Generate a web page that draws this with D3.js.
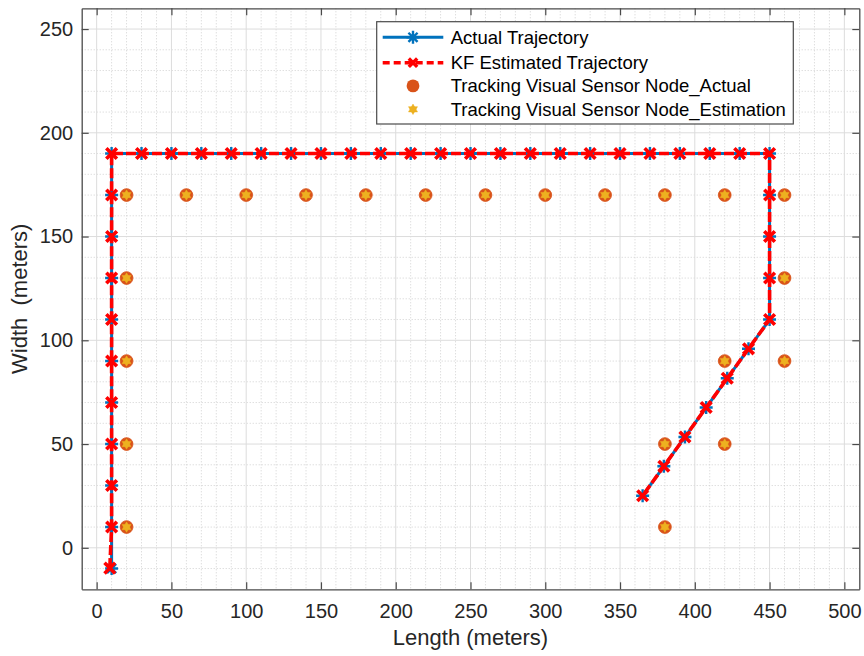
<!DOCTYPE html>
<html>
<head>
<meta charset="utf-8">
<script src="https://cdn.jsdelivr.net/npm/d3@7"></script>
<style>
  html, body { margin: 0; padding: 0; background: #fff; }
  svg { display: block; font-family: "Liberation Sans", Arial, Helvetica, sans-serif; }
</style>
</head>
<body>
<svg id="chart" width="864" height="656"></svg>
<script>
// Target path (ground truth)
const actualX = [10, 10, 10, 10, 10, 10, 10, 10, 10, 10, 10,
  30, 50, 70, 90, 110, 130, 150, 170, 190, 210, 230, 250, 270, 290, 310, 330, 350, 370, 390, 410, 430, 450,
  450, 450, 450, 450,
  435.9, 421.7, 407.6, 393.4, 379.3, 365.1];
const actualY = [-10, 10, 30, 50, 70, 90, 110, 130, 150, 170, 190,
  190, 190, 190, 190, 190, 190, 190, 190, 190, 190, 190, 190, 190, 190, 190, 190, 190, 190, 190, 190, 190, 190,
  170, 150, 130, 110,
  95.9, 81.7, 67.6, 53.4, 39.3, 25.1];

// Kalman filter estimate of the path
const kfX = [8.8, 10, 10, 10, 10, 10, 10, 10, 10, 10, 10,
  30, 50, 70, 90, 110, 130, 150, 170, 190, 210, 230, 250, 270, 290, 310, 330, 350, 370, 390, 410, 430, 450,
  450, 450, 450, 450,
  435.9, 421.7, 407.6, 393.4, 379.3, 365.1];
const kfY = [-9.8, 10, 30, 50, 70, 90, 110, 130, 150, 170, 190,
  190, 190, 190, 190, 190, 190, 190, 190, 190, 190, 190, 190, 190, 190, 190, 190, 190, 190, 190, 190, 190, 190,
  170, 150, 130, 110,
  95.9, 81.7, 67.6, 53.4, 39.3, 25.1];

// Sensor nodes that tracked the target: true and estimated positions
const sensorX = [20, 20, 20, 20, 20, 60, 100, 140, 180, 220, 260, 300, 340, 380, 420, 460, 460, 460, 420, 420, 380, 380];
const sensorY = [170, 130, 90, 50, 10, 170, 170, 170, 170, 170, 170, 170, 170, 170, 170, 170, 130, 90, 90, 50, 50, 10];
const sensorEstX = [20, 20, 20, 20, 20, 60, 100, 140, 180, 220, 260, 300, 340, 380, 420, 460, 460, 460, 420, 420, 380, 380];
const sensorEstY = [170, 130, 90, 50, 10, 170, 170, 170, 170, 170, 170, 170, 170, 170, 170, 170, 130, 90, 90, 50, 50, 10];

const xTicks = [0, 50, 100, 150, 200, 250, 300, 350, 400, 450, 500];
const yTicks = [0, 50, 100, 150, 200, 250];
const legendLabels = ["Actual Trajectory", "KF Estimated Trajectory",
  "Tracking Visual Sensor Node_Actual", "Tracking Visual Sensor Node_Estimation"];

const C_BLUE = "#0072BD", C_RED = "#FF0000", C_ORANGE = "#D95319", C_YELLOW = "#EDB120";
const AX = "#4a4a4a", TXT = "#262626";

const svg = d3.select("#chart");
const box = { left: 81.7, right: 859.3, top: 8.3, bottom: 589.3 };
const x = d3.scaleLinear().domain([-10, 510]).range([box.left, box.right]);
const y = d3.scaleLinear().domain([-20, 260]).range([box.bottom, box.top]);

// Grid: dotted minor lines every 10, solid major lines every 50
const minorX = d3.range(0, 510, 10).filter(v => v % 50 !== 0);
const minorY = d3.range(-10, 260, 10).filter(v => v % 50 !== 0);
const grid = svg.append("g");
grid.selectAll(".mx").data(minorX).join("line")
  .attr("x1", d => x(d)).attr("x2", d => x(d)).attr("y1", box.top).attr("y2", box.bottom)
  .attr("stroke", "#d0d0d0").attr("stroke-width", 1).attr("stroke-dasharray", "1,2");
grid.selectAll(".my").data(minorY).join("line")
  .attr("y1", d => y(d)).attr("y2", d => y(d)).attr("x1", box.left).attr("x2", box.right)
  .attr("stroke", "#d0d0d0").attr("stroke-width", 1).attr("stroke-dasharray", "1,2");
grid.selectAll(".Mx").data(xTicks).join("line")
  .attr("x1", d => x(d)).attr("x2", d => x(d)).attr("y1", box.top).attr("y2", box.bottom)
  .attr("stroke", "#dcdcdc").attr("stroke-width", 1);
grid.selectAll(".My").data(yTicks).join("line")
  .attr("y1", d => y(d)).attr("y2", d => y(d)).attr("x1", box.left).attr("x2", box.right)
  .attr("stroke", "#dcdcdc").attr("stroke-width", 1);

// Axes with inward ticks on all four sides
const tickLen = 7;
function styleAxis(g) {
  g.select(".domain").attr("stroke", AX).attr("stroke-width", 1.3);
  g.selectAll(".tick line").attr("stroke", AX).attr("stroke-width", 1.2);
  g.selectAll(".tick text").attr("fill", TXT).style("font-size", "20px")
    .style("font-family", "'Liberation Sans', Arial, sans-serif");
}
svg.append("g").attr("transform", `translate(0,${box.bottom})`)
  .call(d3.axisBottom(x).tickValues(xTicks).tickSizeInner(-tickLen).tickSizeOuter(0).tickPadding(15).tickFormat(d3.format("d")))
  .call(styleAxis);
svg.append("g").attr("transform", `translate(0,${box.top})`)
  .call(d3.axisTop(x).tickValues(xTicks).tickSizeInner(-tickLen).tickSizeOuter(0).tickFormat(""))
  .call(styleAxis);
svg.append("g").attr("transform", `translate(${box.left},0)`)
  .call(d3.axisLeft(y).tickValues(yTicks).tickSizeInner(-tickLen).tickSizeOuter(0).tickPadding(8.5).tickFormat(d3.format("d")))
  .call(styleAxis);
svg.append("g").attr("transform", `translate(${box.right},0)`)
  .call(d3.axisRight(y).tickValues(yTicks).tickSizeInner(-tickLen).tickSizeOuter(0).tickFormat(""))
  .call(styleAxis);

// Axis titles
svg.append("text").attr("x", (box.left + box.right) / 2).attr("y", 645)
  .attr("text-anchor", "middle").attr("fill", TXT).style("font-size", "22px")
  .text("Length (meters)");
svg.append("text").attr("transform", `translate(27,${(box.top + box.bottom) / 2}) rotate(-90)`)
  .attr("text-anchor", "middle").attr("fill", TXT).style("font-size", "22px")
  .attr("xml:space", "preserve").style("white-space", "pre")
  .text("Width  (meters)");

// Marker shapes
const asteriskPath = s => { const d = s * 0.7;
  return `M${-s},0L${s},0M0,${-s}L0,${s}M${-d},${-d}L${d},${d}M${-d},${d}L${d},${-d}`; };
const crossPath = s => `M${-s},${-s}L${s},${s}M${-s},${s}L${s},${-s}`;
const hexagramPath = r => {
  const tri = off => d3.range(3).map(i => {
    const a = off + i * 2 * Math.PI / 3;
    return [r * Math.sin(a), -r * Math.cos(a)];
  });
  const p = t => "M" + t.map(q => q.join(",")).join("L") + "Z";
  return p(tri(0)) + p(tri(Math.PI));
};

const plot = svg.append("g");
const lineGen = d3.line().x(d => x(d[0])).y(d => y(d[1]));
const actualPts = actualX.map((v, i) => [v, actualY[i]]);
const kfPts = kfX.map((v, i) => [v, kfY[i]]);

// Actual trajectory
plot.append("path").datum(actualPts).attr("d", lineGen)
  .attr("fill", "none").attr("stroke", C_BLUE).attr("stroke-width", 3).attr("stroke-linejoin", "round");
plot.selectAll(".am").data(actualPts).join("path")
  .attr("transform", d => `translate(${x(d[0])},${y(d[1])})`)
  .attr("d", asteriskPath(6.5)).attr("fill", "none").attr("stroke", C_BLUE).attr("stroke-width", 2.4);

// Kalman filter estimate
plot.append("path").datum(kfPts).attr("d", lineGen)
  .attr("fill", "none").attr("stroke", C_RED).attr("stroke-width", 3.6).attr("stroke-dasharray", "10,3");
plot.selectAll(".km").data(kfPts).join("path")
  .attr("transform", d => `translate(${x(d[0])},${y(d[1])})`)
  .attr("d", crossPath(5.3)).attr("fill", "none").attr("stroke", C_RED).attr("stroke-width", 3.6);

// Sensor nodes
const sensorPts = sensorX.map((v, i) => [v, sensorY[i]]);
const sensorEstPts = sensorEstX.map((v, i) => [v, sensorEstY[i]]);
plot.selectAll(".sa").data(sensorPts).join("circle")
  .attr("cx", d => x(d[0])).attr("cy", d => y(d[1])).attr("r", 6.4)
  .attr("fill", C_ORANGE).attr("stroke", C_ORANGE).attr("stroke-width", 0.8);
plot.selectAll(".se").data(sensorEstPts).join("path")
  .attr("transform", d => `translate(${x(d[0])},${y(d[1])})`)
  .attr("d", hexagramPath(5.2)).attr("fill", C_YELLOW).attr("stroke", C_YELLOW).attr("stroke-width", 0.5);

// Legend
const lg = svg.append("g");
lg.append("rect").attr("x", 376.7).attr("y", 21.7).attr("width", 416.6).attr("height", 102.3)
  .attr("fill", "#fff").attr("stroke", AX).attr("stroke-width", 1.2);
const rowY = [37.3, 62.7, 85.9, 109.3];
const sx1 = 382.7, sx2 = 443.3, sxm = (sx1 + sx2) / 2;
lg.append("line").attr("x1", sx1).attr("x2", sx2).attr("y1", rowY[0]).attr("y2", rowY[0])
  .attr("stroke", C_BLUE).attr("stroke-width", 3);
lg.append("path").attr("transform", `translate(${sxm},${rowY[0]})`).attr("d", asteriskPath(6.5))
  .attr("fill", "none").attr("stroke", C_BLUE).attr("stroke-width", 2.4);
lg.append("line").attr("x1", sx1).attr("x2", sx2).attr("y1", rowY[1]).attr("y2", rowY[1])
  .attr("stroke", C_RED).attr("stroke-width", 3.4).attr("stroke-dasharray", "7,4");
lg.append("path").attr("transform", `translate(${sxm},${rowY[1]})`).attr("d", crossPath(4.2))
  .attr("fill", "none").attr("stroke", C_RED).attr("stroke-width", 3.4);
lg.append("circle").attr("cx", sxm).attr("cy", rowY[2]).attr("r", 6.4).attr("fill", C_ORANGE);
lg.append("path").attr("transform", `translate(${sxm},${rowY[3]})`).attr("d", hexagramPath(5.2))
  .attr("fill", C_YELLOW).attr("stroke", C_YELLOW).attr("stroke-width", 0.5);
lg.selectAll(".lt").data(legendLabels).join("text")
  .attr("x", 450.7).attr("y", (d, i) => rowY[i]).attr("dy", "0.35em")
  .attr("fill", "#000").style("font-size", "18.5px").text(d => d);
</script>
</body>
</html>
